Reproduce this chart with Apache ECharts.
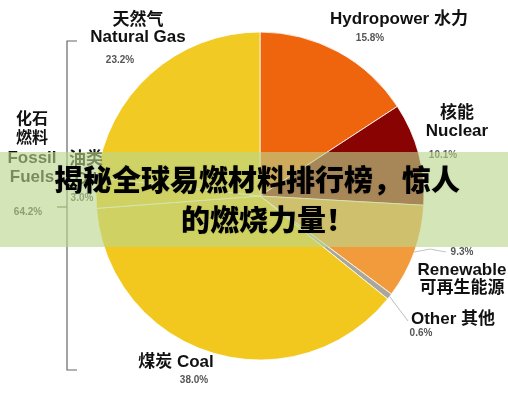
<!DOCTYPE html>
<html>
<head>
<meta charset="utf-8">
<title>pie</title>
<script src="https://cdn.jsdelivr.net/npm/echarts@6/dist/echarts.min.js"></script>
<style>
  html, body { margin: 0; padding: 0; background: #fff; }
  #main { width: 508px; height: 400px; }
</style>
</head>
<body>
<div id="main"></div>
<script>
// 数据
var keys = ["hydro", "nuclear", "renewable", "other", "coal", "oil", "gas"];
var nameZh = ["水力", "核能", "可再生能源", "其他", "煤炭", "油类", "天然气"];
var nameEn = ["Hydropower", "Nuclear", "Renewable", "Other", "Coal", "Oil", "Natural Gas"];
var shares = [15.8, 10.1, 9.3, 0.6, 38.0, 3.0, 23.2];
var colors = ["#ef650e", "#8a0303", "#f29b3c", "#aaa699", "#f2c81f", "#f2c81f", "#f2ca24"];
var fossilKeys = ["coal", "oil", "gas"];
var groupZh = ["化石", "燃料"];
var groupEn = ["Fossil", "Fuels"];
var title1 = "揭秘全球易燃材料排行榜，惊人";
var title2 = "的燃烧力量！";

var FONT = "Liberation Sans, Noto Sans CJK SC, sans-serif";
var cx = 260, cy = 196, R = 164;

// 标签位置 (x 居中, top)
var layout = {
  hydro:     { x: 399, top: 10,  lines: ["name", "pct"], lh: [19, 19], pad: [0, 58, 0, 0] },
  nuclear:   { x: 457, top: 104, lines: ["zh", "en", "pct"], lh: [18, 18, 30], pad: [0, 28, 0, 0] },
  renewable: { x: 462, top: 244, lines: ["pct", "en", "zh"], lh: [16, 20, 17], pad: [0, 0, 0, 0] },
  other:     { x: 453, top: 311, lines: ["name", "pct"], lh: [16, 12], pad: [0, 64, 0, 0] },
  coal:      { x: 176, top: 353, lines: ["nameZhFirst", "pct"], lh: [18, 18], pad: [0, 0, 0, 36] },
  oil:       { x: 86,  top: 150, lines: ["zh", "en", "pct"], lh: [19, 20, 19], pad: [0, 8, 0, 0] },
  gas:       { x: 138, top: 12,  lines: ["zh", "en", "pct"], lh: [17, 17, 29], pad: [0, 36, 0, 0] }
};

function buildLabel(i) {
  var L = layout[keys[i]];
  var txt = [], rich = {};
  for (var j = 0; j < L.lines.length; j++) {
    var t = L.lines[j], s, k = "l" + j;
    if (t == "name") s = nameEn[i] + " " + nameZh[i];
    else if (t == "nameZhFirst") s = nameZh[i] + " " + nameEn[i];
    else if (t == "zh") s = nameZh[i];
    else if (t == "en") s = nameEn[i];
    else s = shares[i].toFixed(1) + "%";
    if (t == "pct") {
      rich[k] = { fontSize: 10, fontWeight: "bold", color: "#555", fontFamily: FONT,
                  lineHeight: L.lh[j], padding: L.pad };
    } else {
      rich[k] = { fontSize: 17, fontWeight: "bold", color: "#111", fontFamily: FONT,
                  lineHeight: L.lh[j] };
    }
    txt.push("{" + k + "|" + s + "}");
  }
  return { formatter: txt.join("\n"), rich: rich };
}

var pieData = [];
for (var i = 0; i < keys.length; i++) {
  var lb = buildLabel(i);
  pieData.push({
    name: nameEn[i],
    value: shares[i],
    itemStyle: { color: colors[i] },
    label: { formatter: lb.formatter, rich: lb.rich }
  });
}

// 化石燃料合计
var fossilSum = 0;
for (var i = 0; i < keys.length; i++) {
  if (fossilKeys.indexOf(keys[i]) >= 0) fossilSum += shares[i];
}

// 引线：扇区中点
function edgePoint(idx, r) {
  var cum = 0;
  for (var i = 0; i < idx; i++) cum += shares[i];
  var a = (cum + shares[idx] / 2) * 3.6 * Math.PI / 180;
  return [cx + r * Math.sin(a), cy - r * Math.cos(a)];
}
var pRen = edgePoint(keys.indexOf("renewable"), R);
var pOth = edgePoint(keys.indexOf("other"), R);

var graphics = [
  // 括号
  { type: "polyline", z: 50, shape: { points: [[77, 41], [67, 41], [67, 370], [77, 370]] },
    style: { stroke: "#666", lineWidth: 1.2, fill: null } },
  { type: "polyline", z: 50, shape: { points: [[57, 207], [67, 207]] },
    style: { stroke: "#666", lineWidth: 1.2, fill: null } },
  // 引线
  { type: "polyline", z: 50, shape: { points: [pRen, [430, pRen[1] - 3], [446, pRen[1]]] },
    style: { stroke: "#c4c4c4", lineWidth: 1, fill: null } },
  { type: "polyline", z: 50, shape: { points: [pOth, [408, 321]] },
    style: { stroke: "#bdbdbd", lineWidth: 1, fill: null } },
  // 左侧分组
  { type: "text", z: 50, x: 32, y: 118, style: { text: groupZh[0], font: "bold 16px Noto Sans CJK SC", fill: "#111", align: "center", verticalAlign: "middle" } },
  { type: "text", z: 50, x: 32, y: 137, style: { text: groupZh[1], font: "bold 16px Noto Sans CJK SC", fill: "#111", align: "center", verticalAlign: "middle" } },
  { type: "text", z: 50, x: 32, y: 158, style: { text: groupEn[0], font: "bold 17px " + FONT, fill: "#111", align: "center", verticalAlign: "middle" } },
  { type: "text", z: 50, x: 32, y: 177, style: { text: groupEn[1], font: "bold 17px " + FONT, fill: "#111", align: "center", verticalAlign: "middle" } },
  { type: "text", z: 50, x: 28, y: 212, style: { text: fossilSum.toFixed(1) + "%", font: "bold 10px " + FONT, fill: "#444", align: "center", verticalAlign: "middle" } },
  // 横幅
  { type: "rect", z: 100, shape: { x: 0, y: 152, width: 508, height: 95 },
    style: { fill: "rgba(185,215,140,0.62)" } },
  { type: "text", z: 101, x: 257, y: 200,
    style: {
      text: "{a|" + title1 + "}\n{b|" + title2 + "}",
      align: "center", verticalAlign: "middle",
      rich: {
        a: { fontSize: 29, fontWeight: 900, fontFamily: "Noto Sans CJK SC", color: "#fff", lineHeight: 40,
             textShadowColor: "rgba(0,0,0,0.12)", textShadowBlur: 2 },
        b: { fontSize: 29, fontWeight: 900, fontFamily: "Noto Sans CJK SC", color: "#fff", lineHeight: 40,
             padding: [0, 0, 0, 22], textShadowColor: "rgba(0,0,0,0.12)", textShadowBlur: 2 }
      }
    } }
];

var myChart = echarts.init(document.getElementById("main"));
var option = {
  animation: false,
  backgroundColor: "#fff",
  graphic: graphics,
  series: [
    {
      type: "pie",
      center: [cx, cy],
      radius: R,
      startAngle: 90,
      clockwise: true,
      avoidLabelOverlap: false,
      itemStyle: { borderColor: "rgba(255,255,255,0.8)", borderWidth: 1 },
      label: { show: true, position: "inside", overflow: "none" },
      labelLine: { show: false },
      emphasis: { disabled: true },
      labelLayout: function(params) {
        var L = layout[keys[params.dataIndex]];
        return { x: L.x, y: L.top, align: "center", verticalAlign: "top" };
      },
      data: pieData
    }
  ]
};
myChart.setOption(option);
</script>
</body>
</html>
